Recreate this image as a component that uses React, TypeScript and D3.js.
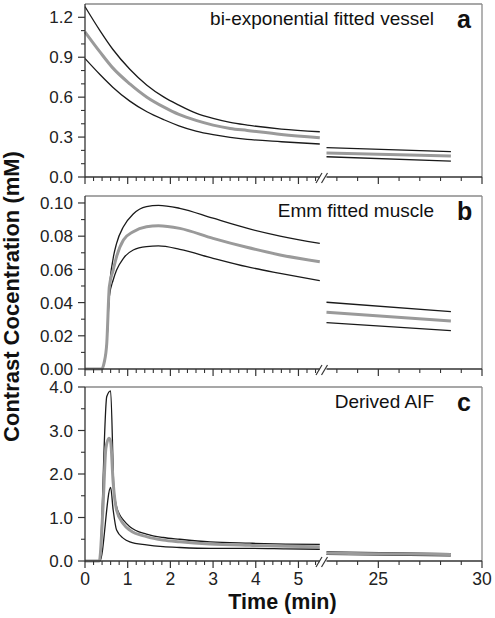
import React from "react";
import * as d3 from "d3";

// ---------- data ----------
// Panel a: bi-exponential fitted vessel
const vesselT = [0, 0.35, 0.65, 1.05, 1.45, 1.85, 2.2, 2.6, 3.0, 3.4, 3.8, 4.6, 5.5];
const vesselUpper = [1.28, 1.1, 0.96, 0.81, 0.69, 0.6, 0.54, 0.48, 0.44, 0.41, 0.39, 0.36, 0.34];
const vesselMean = [1.09, 0.94, 0.82, 0.7, 0.6, 0.525, 0.47, 0.425, 0.39, 0.365, 0.35, 0.32, 0.295];
const vesselLower = [0.89, 0.77, 0.675, 0.57, 0.49, 0.43, 0.385, 0.345, 0.318, 0.298, 0.283, 0.265, 0.248];
const vesselLateT = [22.5, 28.5];
const vesselLateUpper = [0.22, 0.19];
const vesselLateMean = [0.18, 0.158];
const vesselLateLower = [0.152, 0.12];

// Panel b: Emm fitted muscle
const muscleT = [0, 0.39, 0.45, 0.51, 0.57, 0.66, 0.74, 0.9, 1.13, 1.44, 1.72, 2.22, 3.0, 3.79, 4.57, 5.5];
const muscleUpper = [0, 0, 0.004, 0.0155, 0.0476, 0.0667, 0.0757, 0.0857, 0.0934, 0.0978, 0.0986, 0.0968, 0.0908, 0.0848, 0.0801, 0.0757];
const muscleMean = [0, 0, 0.004, 0.0155, 0.0496, 0.0596, 0.0677, 0.0777, 0.0827, 0.0857, 0.0863, 0.0847, 0.0787, 0.0733, 0.0687, 0.0646];
const muscleLower = [0, 0, 0.004, 0.015, 0.0436, 0.0536, 0.0596, 0.0667, 0.0717, 0.0737, 0.0741, 0.0721, 0.0667, 0.0616, 0.0576, 0.0532];
const muscleLateT = [22.5, 28.5];
const muscleLateUpper = [0.0402, 0.0345];
const muscleLateMean = [0.0342, 0.0289];
const muscleLateLower = [0.0279, 0.0231];

// Panel c: Derived AIF
const aifUpperT = [0, 0.335, 0.51, 0.6, 0.68, 0.74, 0.82, 0.9, 1.05, 1.44, 1.83, 2.22, 2.93, 3.86, 4.7, 5.5];
const aifUpper = [0, 0, 3.78, 3.91, 1.6, 1.25, 1.05, 0.94, 0.79, 0.62, 0.54, 0.5, 0.44, 0.41, 0.39, 0.38];
const aifMeanT = [0, 0.335, 0.42, 0.49, 0.56, 0.6, 0.66, 0.74, 0.9, 1.05, 1.44, 1.83, 2.22, 2.93, 3.86, 4.7, 5.5];
const aifMean = [0, 0, 1.2, 2.6, 2.82, 2.75, 1.8, 1.17, 0.85, 0.71, 0.56, 0.48, 0.44, 0.39, 0.36, 0.34, 0.33];
const aifLowerT = [0, 0.35, 0.6, 0.66, 0.74, 0.9, 1.05, 1.44, 1.83, 2.22, 2.93, 3.86, 4.7, 5.5];
const aifLower = [0, 0, 1.69, 1.17, 0.71, 0.52, 0.44, 0.37, 0.33, 0.31, 0.29, 0.29, 0.28, 0.27];
const aifLateT = [22.5, 28.5];
const aifLateUpper = [0.21, 0.17];
const aifLateMean = [0.18, 0.15];
const aifLateLower = [0.15, 0.12];

// axes
const xTicksEarly = [0, 1, 2, 3, 4, 5];
const xTicksLate = [25, 30];
const xMinorLate = [23, 24, 26, 27, 28, 29];
const yTicksA = [0, 0.3, 0.6, 0.9, 1.2];
const yTicksB = [0, 0.02, 0.04, 0.06, 0.08, 0.1];
const yTicksC = [0, 1, 2, 3, 4];
const panelLabels = ["bi-exponential fitted vessel", "Emm fitted muscle", "Derived AIF"];
const panelLetters = ["a", "b", "c"];
const yTitle = "Contrast Cocentration (mM)";
const xTitle = "Time (min)";

// ---------- layout ----------
const W = 495;
const H = 618;
const L = 85;
const R = 482;
const FONT = "'Liberation Sans', Arial, Helvetica, sans-serif";

const xEarly = d3.scaleLinear().domain([0, 5.5]).range([L, 319.8]);
const xLate = d3.scaleLinear().domain([22.5, 30]).range([326.5, R]);

type Panel = {
  top: number;
  bottom: number;
  domain: [number, number];
  ticks: number[];
  minor: number;
  fmt: string;
  early: { t: number[]; v: number[] }[]; // upper, mean, lower
  late: { t: number[]; v: number[] }[];
};

const panels: Panel[] = [
  {
    top: 4, bottom: 177, domain: [0, 1.3], ticks: yTicksA, minor: 0.1, fmt: ".1f",
    early: [
      { t: vesselT, v: vesselUpper },
      { t: vesselT, v: vesselMean },
      { t: vesselT, v: vesselLower },
    ],
    late: [
      { t: vesselLateT, v: vesselLateUpper },
      { t: vesselLateT, v: vesselLateMean },
      { t: vesselLateT, v: vesselLateLower },
    ],
  },
  {
    top: 196, bottom: 369, domain: [0, 0.1042], ticks: yTicksB, minor: 0.01, fmt: ".2f",
    early: [
      { t: muscleT, v: muscleUpper },
      { t: muscleT, v: muscleMean },
      { t: muscleT, v: muscleLower },
    ],
    late: [
      { t: muscleLateT, v: muscleLateUpper },
      { t: muscleLateT, v: muscleLateMean },
      { t: muscleLateT, v: muscleLateLower },
    ],
  },
  {
    top: 387, bottom: 561, domain: [0, 4], ticks: yTicksC, minor: 0.5, fmt: ".1f",
    early: [
      { t: aifUpperT, v: aifUpper },
      { t: aifMeanT, v: aifMean },
      { t: aifLowerT, v: aifLower },
    ],
    late: [
      { t: aifLateT, v: aifLateUpper },
      { t: aifLateT, v: aifLateMean },
      { t: aifLateT, v: aifLateLower },
    ],
  },
];

const xMinorEarly = d3.range(0, 5.45, 0.2).filter((d) => Math.abs(d - Math.round(d)) > 1e-6);

function PanelView({ p, i }: { p: Panel; i: number }) {
  const y = d3.scaleLinear().domain(p.domain).range([p.bottom, p.top]);
  const lineFor = (xs: d3.ScaleLinear<number, number>, t: number[]) =>
    d3
      .line<number>()
      .x((_, k) => xs(t[k]))
      .y((v) => y(v))
      .curve(d3.curveMonotoneX);
  const minorY = d3
    .range(p.domain[0], p.ticks[p.ticks.length - 1] + p.minor / 2, p.minor)
    .filter((v) => !p.ticks.some((t) => Math.abs(t - v) < 1e-9));
  const fmt = d3.format(p.fmt);
  const styles = [
    { stroke: "#1a1a1a", w: 1.3 },
    { stroke: "#9a9a9a", w: 3 },
    { stroke: "#1a1a1a", w: 1.3 },
  ];
  const order = [0, 2, 1];
  return (
    <g>
      {/* frame top & right */}
      <line x1={L} x2={R} y1={p.top} y2={p.top} stroke="#8a8a8a" strokeWidth={1.3} />
      <line x1={R} x2={R} y1={p.top} y2={p.bottom} stroke="#8a8a8a" strokeWidth={1.3} />
      {/* curves */}
      {order.map((k) => (
        <path key={"e" + k} d={lineFor(xEarly, p.early[k].t)(p.early[k].v) || ""} fill="none"
          stroke={styles[k].stroke} strokeWidth={styles[k].w} />
      ))}
      {order.map((k) => (
        <path key={"l" + k} d={lineFor(xLate, p.late[k].t)(p.late[k].v) || ""} fill="none"
          stroke={styles[k].stroke} strokeWidth={styles[k].w} />
      ))}
      {/* left axis */}
      <line x1={L} x2={L} y1={p.top} y2={p.bottom + 0.5} stroke="#333" strokeWidth={1.3} />
      {p.ticks.map((t) => (
        <g key={"yt" + t}>
          <line x1={L - 7} x2={L} y1={y(t)} y2={y(t)} stroke="#333" strokeWidth={1.2} />
          <text x={L - 12} y={y(t)} dy="0.36em" textAnchor="end" fontSize={17}
            fontFamily={FONT} fill="#222">{fmt(t)}</text>
        </g>
      ))}
      {minorY.map((t) => (
        <line key={"ym" + t} x1={L - 4} x2={L} y1={y(t)} y2={y(t)} stroke="#333" strokeWidth={1.1} />
      ))}
      {/* bottom axis with break */}
      <line x1={L} x2={xEarly(5.5)} y1={p.bottom} y2={p.bottom} stroke="#333" strokeWidth={1.3} />
      <line x1={xLate(22.5)} x2={R} y1={p.bottom} y2={p.bottom} stroke="#333" strokeWidth={1.3} />
      <line x1={316} x2={322} y1={p.bottom + 6} y2={p.bottom - 4} stroke="#333" strokeWidth={1.2} />
      <line x1={321.5} x2={327.5} y1={p.bottom + 6} y2={p.bottom - 4} stroke="#333" strokeWidth={1.2} />
      {xTicksEarly.map((t) => (
        <line key={"xe" + t} x1={xEarly(t)} x2={xEarly(t)} y1={p.bottom} y2={p.bottom + 7} stroke="#333" strokeWidth={1.2} />
      ))}
      {xMinorEarly.map((t) => (
        <line key={"xem" + t} x1={xEarly(t)} x2={xEarly(t)} y1={p.bottom} y2={p.bottom + 4} stroke="#333" strokeWidth={1.1} />
      ))}
      {xTicksLate.map((t) => (
        <line key={"xl" + t} x1={xLate(t)} x2={xLate(t)} y1={p.bottom} y2={p.bottom + 7} stroke="#333" strokeWidth={1.2} />
      ))}
      {xMinorLate.map((t) => (
        <line key={"xlm" + t} x1={xLate(t)} x2={xLate(t)} y1={p.bottom} y2={p.bottom + 4} stroke="#333" strokeWidth={1.1} />
      ))}
      {i === 2 &&
        xTicksEarly.map((t) => (
          <text key={"xel" + t} x={xEarly(t)} y={p.bottom + 24} textAnchor="middle" fontSize={17.5}
            fontFamily={FONT} fill="#222">{t}</text>
        ))}
      {i === 2 &&
        xTicksLate.map((t) => (
          <text key={"xll" + t} x={xLate(t)} y={p.bottom + 24} textAnchor="middle" fontSize={17.5}
            fontFamily={FONT} fill="#222">{t}</text>
        ))}
      {/* annotations */}
      <text x={434} y={p.top + 21} textAnchor="end" fontSize={19} fontFamily={FONT} fill="#111">
        {panelLabels[i]}
      </text>
      <text x={457} y={p.top + 24} fontSize={25} fontWeight="bold" fontFamily={FONT} fill="#111">
        {panelLetters[i]}
      </text>
    </g>
  );
}

export default function App() {
  return (
    <svg width={W} height={H} viewBox={`0 0 ${W} ${H}`}
      style={{ position: "absolute", left: 0, top: 0, background: "#fff" }}>
      <rect x={0} y={0} width={W} height={H} fill="#fff" />
      {panels.map((p, i) => (
        <PanelView key={i} p={p} i={i} />
      ))}
      <text transform="translate(18.5,296.5) rotate(-90)" textAnchor="middle" fontSize={22}
        fontWeight="bold" fontFamily={FONT} fill="#111">{yTitle}</text>
      <text x={282.5} y={609} textAnchor="middle" fontSize={21.5} fontWeight="bold"
        fontFamily={FONT} fill="#111">{xTitle}</text>
    </svg>
  );
}
